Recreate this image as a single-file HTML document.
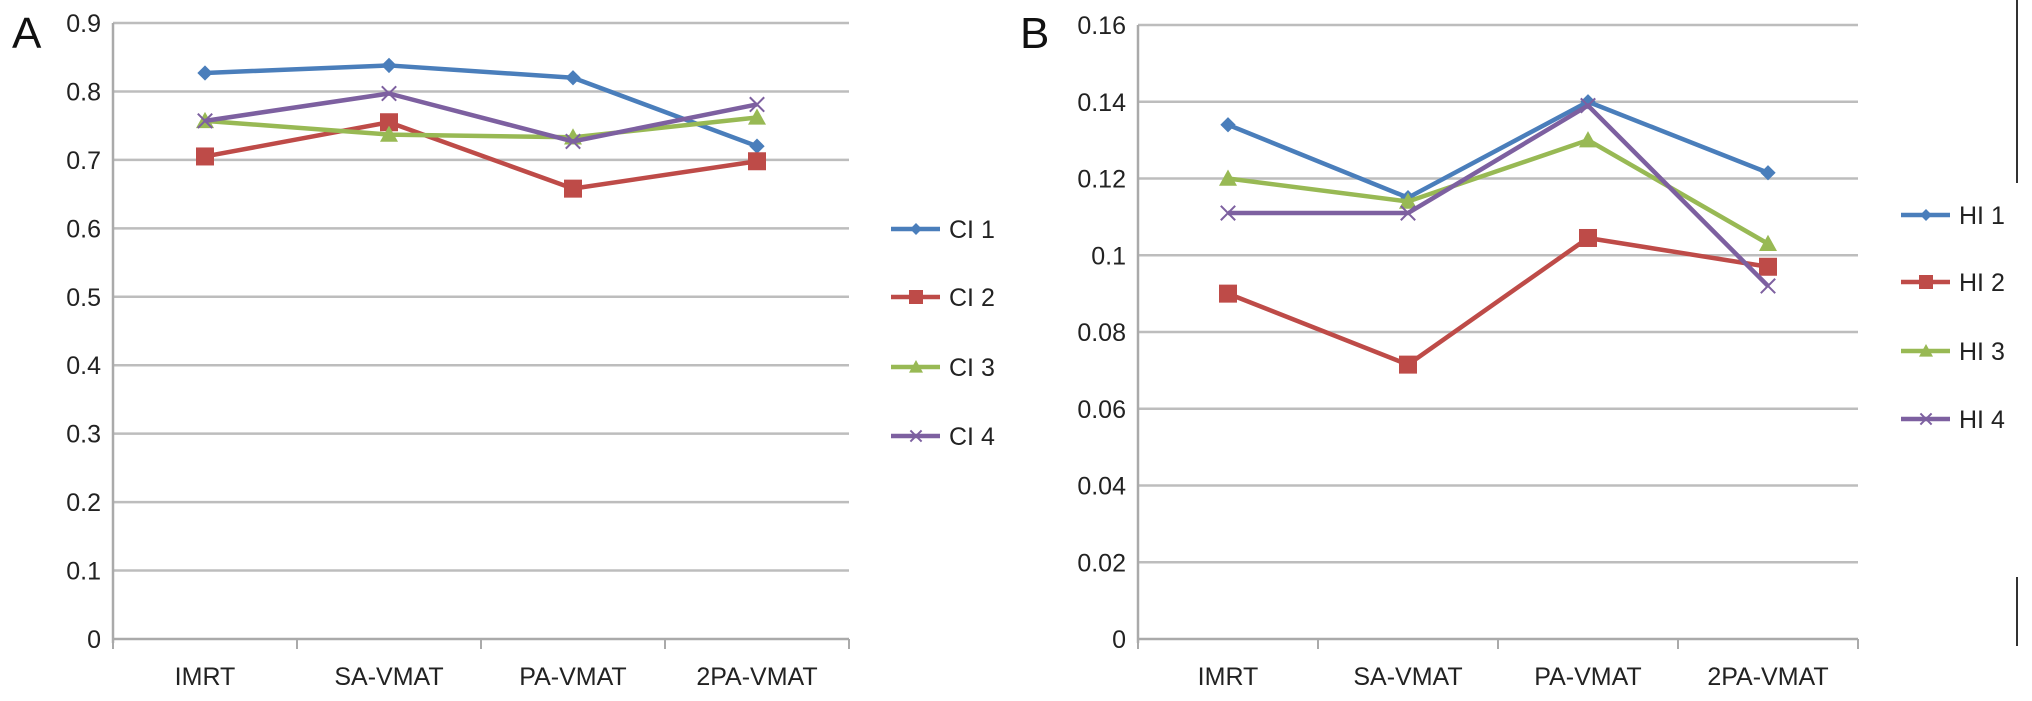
<!DOCTYPE html>
<html><head><meta charset="utf-8">
<style>
html,body{margin:0;padding:0;background:#fff;}
svg{display:block;font-family:"Liberation Sans",Arial,sans-serif;}
</style></head>
<body>
<svg id="chart" width="2032" height="701" viewBox="0 0 2032 701" xmlns="http://www.w3.org/2000/svg">
<text x="12" y="48" font-size="44" fill="#111">A</text>
<text x="1020" y="48" font-size="44" fill="#111">B</text>
<line x1="2017" y1="0" x2="2017" y2="183" stroke="#333" stroke-width="2"/>
<line x1="2017" y1="577" x2="2017" y2="646" stroke="#333" stroke-width="2"/>
</svg>
<script>
const categories = ["IMRT","SA-VMAT","PA-VMAT","2PA-VMAT"];
const ciNames = ["CI 1","CI 2","CI 3","CI 4"];
const ci1 = [0.827,0.838,0.820,0.720];
const ci2 = [0.705,0.755,0.658,0.698];
const ci3 = [0.757,0.737,0.733,0.762];
const ci4 = [0.757,0.797,0.727,0.781];
const ciTicks = ["0","0.1","0.2","0.3","0.4","0.5","0.6","0.7","0.8","0.9"];
const hiNames = ["HI 1","HI 2","HI 3","HI 4"];
const hi1 = [0.134,0.115,0.140,0.1215];
const hi2 = [0.090,0.0715,0.1045,0.097];
const hi3 = [0.120,0.114,0.130,0.103];
const hi4 = [0.111,0.111,0.139,0.092];
const hiTicks = ["0","0.02","0.04","0.06","0.08","0.1","0.12","0.14","0.16"];

const NS="http://www.w3.org/2000/svg";
const svg=document.getElementById('chart');
const colors=["#4a7ebb","#be4b48","#98b954","#7d60a0"];
function mk(tag,attrs,parent){const e=document.createElementNS(NS,tag);for(const k in attrs)e.setAttribute(k,attrs[k]);(parent||svg).appendChild(e);return e;}

function marker(g,type,x,y,c,size){
  let m;
  if(type===0){const s=size*0.85;m=mk('polygon',{points:`${x},${y-s} ${x+s},${y} ${x},${y+s} ${x-s},${y}`,fill:c},g);}
  else if(type===1){const s=size;m=mk('rect',{x:x-s,y:y-s,width:2*s,height:2*s,fill:c},g);}
  else if(type===2){const s=size;m=mk('polygon',{points:`${x},${y-s} ${x+s},${y+s*0.8} ${x-s},${y+s*0.8}`,fill:c},g);}
  else {const s=size*0.8;m=mk('path',{d:`M${x-s},${y-s}L${x+s},${y+s}M${x-s},${y+s}L${x+s},${y-s}`,stroke:c,'stroke-width':2,fill:'none'},g);}
  return m;
}

function drawPanel(p){
  const g=mk('g',{});
  
  
  const n=p.ticks.length-1;
  const yScale=v=>p.y0-(v/p.max)*(p.y0-p.yTop);
  const band=(p.right-p.left)/categories.length;
  const xScale=i=>p.left+band*(i+0.5);
  p.ticks.forEach((t,i)=>{
    const v=p.max*i/n, y=yScale(v);
    const gl=mk('line',{x1:p.left,x2:p.right,y1:y,y2:y,stroke:i===0?'#aaa':'#bdbdbd','stroke-width':2.5},g);
    
    
    const tl=mk('text',{x:p.left-12,y:y+9,'text-anchor':'end','font-size':25,fill:'#222'},g);
    tl.textContent=t;
    
    
  });
  const ax=mk('line',{x1:p.left,x2:p.left,y1:p.yTop,y2:p.y0+4,stroke:'#aaa','stroke-width':2.5},g);
  
  
  for(let i=0;i<=categories.length;i++){
    const x=p.left+band*i;
    const tk=mk('line',{x1:x,x2:x,y1:p.y0,y2:p.y0+10,stroke:'#aaa','stroke-width':2},g);
    
    
  }
  categories.forEach((c,i)=>{
    const t=mk('text',{x:xScale(i),y:685,'text-anchor':'middle','font-size':25,fill:'#222'},g);
    t.textContent=c;
    
    
  });
  p.series.forEach((s,si)=>{
    const pts=s.map((v,i)=>xScale(i)+','+yScale(v)).join(' ');
    const l=mk('polyline',{points:pts,fill:'none',stroke:colors[si],'stroke-width':4.5,'stroke-linejoin':'round'},g);
    
    
    s.forEach((v,i)=>{
      const m=marker(g,si,xScale(i),yScale(v),colors[si],si===1?9:9);
      
      
    });
    const ly=p.legY[si];
    const lg=mk('g',{},g);
    
    
    mk('line',{x1:p.legX,x2:p.legX+49,y1:ly,y2:ly,stroke:colors[si],'stroke-width':4.5},lg);
    marker(lg,si,p.legX+25,ly,colors[si],si===1?7:7);
    const lt=mk('text',{x:p.legX+58,y:ly+9,'font-size':25,fill:'#222'},lg);
    lt.textContent=p.names[si];
  });
}
drawPanel({name:'panel-a-ci-chart',left:113,right:849,yTop:23,y0:639,max:0.9,ticks:ciTicks,series:[ci1,ci2,ci3,ci4],names:ciNames,legX:891,legY:[229,297,367,436]});
drawPanel({name:'panel-b-hi-chart',left:1138,right:1858,yTop:25,y0:639,max:0.16,ticks:hiTicks,series:[hi1,hi2,hi3,hi4],names:hiNames,legX:1901,legY:[215,282,351,419]});
</script>
</body></html>
